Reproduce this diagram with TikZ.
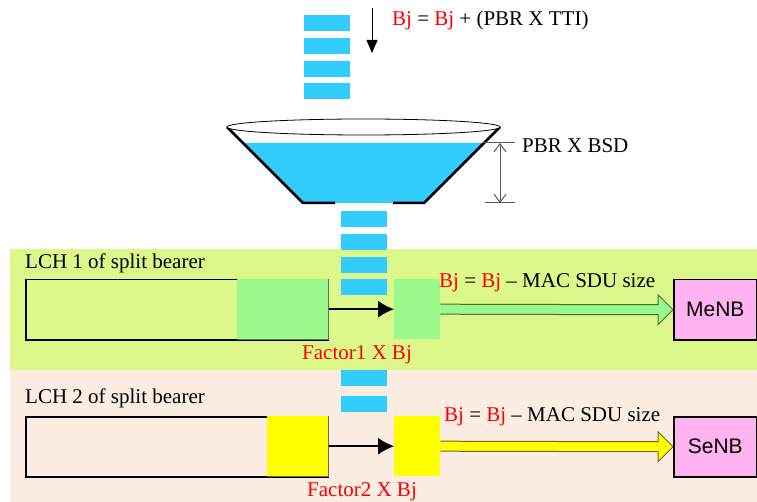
\documentclass[tikz,border=0pt]{standalone}
\usepackage{fontspec}
\setmainfont{Liberation Serif}
\newfontfamily\arialfont{Liberation Sans}
\usetikzlibrary{arrows.meta, calc, positioning}

\definecolor{pktblue}{HTML}{33CCFF}
\definecolor{lchgreen}{HTML}{DDF88A}
\definecolor{lchpeach}{HTML}{FCEDE2}
\definecolor{sdugreen}{HTML}{99F98A}
\definecolor{sduyellow}{HTML}{FFFF00}
\definecolor{enbpink}{HTML}{FFB3F0}
\definecolor{dimgray}{HTML}{5A5A5A}
\definecolor{greenedge}{HTML}{46703A}
\definecolor{yellowedge}{HTML}{6B6B1F}

\begin{document}
\begin{tikzpicture}[x=1pt, y=-1pt,
    txt/.style={font=\fontsize{21}{25}\selectfont, inner sep=0pt, anchor=west},
    red txt/.style={txt, text=red, anchor=center},
    panel/.style={inner sep=0pt, anchor=north west, minimum width=747pt},
    queue/.style={draw, line width=1.5pt, inner sep=0pt, anchor=north west, minimum width=302pt, minimum height=60pt},
    sdu/.style={inner sep=0pt, minimum height=60pt},
    enb/.style={draw, line width=1.5pt, fill=enbpink, inner sep=0pt, anchor=north west, minimum width=83pt, minimum height=60pt, font=\arialfont\fontsize{21}{25}\selectfont},
    link/.style={draw, line width=1.5pt, -{Latex[length=16pt, width=17pt]}},
    fat/.style={draw, line width=1pt},
    pkt/.style={fill=pktblue},
    dim/.style={draw=dimgray, line width=1pt}
]
    \useasboundingbox (0,0) rectangle (757,502);

    % logical channel panels
    \node[panel, fill=lchgreen, minimum height=121pt] (p1) at (10,249) {};
    \node[panel, fill=lchpeach, minimum height=132pt] (p2) at (10,370) {};

    % incoming packets
    \foreach \y in {15,38,61,83}
        \fill[pkt] (304,\y) rectangle ++(46,16);
    \coordinate (in) at (372,8);
    \coordinate (inend) at (372,53);
    \draw[line width=1pt, -{Triangle[length=13pt, width=11pt]}] (in) -- (inend);
    \node[txt] (acc) at (392,20) {\textcolor{red}{Bj} = \textcolor{red}{Bj} + (PBR X TTI)};

    % bucket
    \fill[pktblue] (243,143) -- (484,143) -- (424,203) -- (303,203) -- cycle;
    \draw[line width=2.5pt] (227,127) -- (303,203) -- (335,203);
    \draw[line width=2.5pt] (393,203) -- (424,203) -- (500,127);
    \draw[fill=white, line width=0.8pt] (363.5,127) ellipse [x radius=136.5, y radius=8];

    % bucket size
    \coordinate (dtop) at (500,143);
    \coordinate (dbot) at (500,203);
    \draw[dim] (483,143) -- (515,143);
    \draw[dim] (485,203) -- (515,203);
    \draw[dim, {Straight Barb[length=8pt, width=12pt]}-{Straight Barb[length=8pt, width=12pt]}] (dtop) -- (dbot);
    \node[txt] (bsd) at (522,146) {PBR X BSD};

    % outgoing packets
    \foreach \y in {211,234,257,279,370,396}
        \fill[pkt] (341,\y) rectangle ++(46,16);

    % LCH 1
    \node[txt] (l1) at (25,263) {LCH 1 of split bearer};
    \node[queue] (q1) at (25,279) {};
    \node[sdu, fill=sdugreen, anchor=north east, minimum width=91pt] (h1) at (q1.north east) {};
    \draw[thin, black!60] (h1.south west) -- (h1.south east) -- (h1.north east);
    \node[sdu, fill=sdugreen, anchor=north west, minimum width=46pt] (s1) at (394,279) {};
    \node[enb] (me) at (673,279) {MeNB};
    \draw[link] (h1) -- (s1);
    \draw[fat, draw=greenedge, fill=sdugreen] ($(s1.east)+(0,-5)$) -- ($(me.west)+(-15,-5)$) -- ($(me.west)+(-15,-15)$) -- (me.west)
        -- ($(me.west)+(-15,15)$) -- ($(me.west)+(-15,5)$) -- ($(s1.east)+(0,5)$);
    \node[txt] (r1) at (439,283) {\textcolor{red}{Bj} = \textcolor{red}{Bj} -- MAC SDU size};
    \node[red txt] (f1) at (357,355) {Factor1 X Bj};

    % LCH 2
    \node[txt] (l2) at (25,398) {LCH 2 of split bearer};
    \node[queue] (q2) at (25,416) {};
    \node[sdu, fill=sduyellow, anchor=north east, minimum width=61pt] (h2) at (q2.north east) {};
    \draw[thin, black!60] (h2.south west) -- (h2.south east) -- (h2.north east);
    \node[sdu, fill=sduyellow, anchor=north west, minimum width=46pt] (s2) at (394,416) {};
    \node[enb] (se) at (673,416) {SeNB};
    \draw[link] (h2) -- (s2);
    \draw[fat, draw=yellowedge, fill=sduyellow] ($(s2.east)+(0,-5)$) -- ($(se.west)+(-15,-5)$) -- ($(se.west)+(-15,-15)$) -- (se.west)
        -- ($(se.west)+(-15,15)$) -- ($(se.west)+(-15,5)$) -- ($(s2.east)+(0,5)$);
    \node[txt] (r2) at (444,417) {\textcolor{red}{Bj} = \textcolor{red}{Bj} -- MAC SDU size};
    \node[red txt] (f2) at (362,492) {Factor2 X Bj};

\end{tikzpicture}
\end{document}
